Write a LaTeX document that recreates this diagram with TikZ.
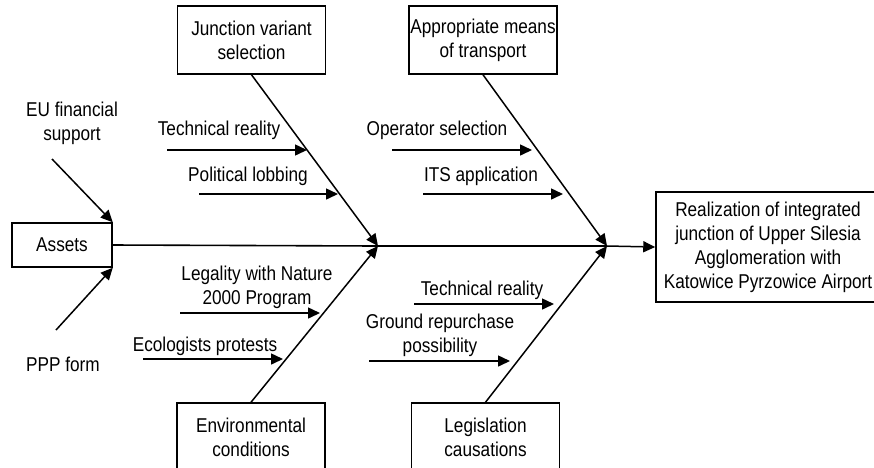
\documentclass[tikz,border=0pt]{standalone}
\usepackage{fontspec}
\setmainfont{Liberation Sans}[FakeStretch=0.86]
\usetikzlibrary{arrows.meta}
\tikzstyle{box}=[draw,line width=1.5pt,align=center,inner sep=0pt]
\tikzstyle{cause}=[align=center,inner sep=0pt]
\tikzstyle{spine} = [draw,line width=1.6pt]
\tikzstyle{arrow} = [draw,line width=1.5pt,-{Triangle[length=12pt,width=11pt]}]

\begin{document}
\begin{tikzpicture}[x=1pt,y=-1pt,font=\fontsize{20}{24}\selectfont]
\useasboundingbox (0,0) rectangle (874,467);

    % boxes
    \node[box,minimum width=100pt,minimum height=44pt] (assets) at (62,245) {Assets};
    \foreach \pos/ \name/ \txt in {{(251.5,40)/junction/{Junction variant\\selection}}, {(483,40)/means/{Appropriate means\\of transport}}, {(251,437)/env/{Environmental\\conditions}}, {(485.5,437)/legis/{Legislation\\causations}}}
        \node[box,minimum width=148pt,minimum height=68pt] (\name) at \pos {\txt};
    \node[box,minimum width=224pt,minimum height=110pt] (result) at (768,247) {Realization of integrated\\junction of Upper Silesia\\Agglomeration with\\Katowice Pyrzowice Airport};

    % joints on the spine
    \coordinate (j1) at (378,246);
    \coordinate (j2) at (607,246);

    \path[spine] (assets.east) -- (j1) -- (j2);
    \path[arrow] (j2) -- (result.west);
    \foreach \source/ \dest in {junction.south/j1, env.north/j1, means.south/j2, legis.north/j2}
        \path[arrow] (\source) -- (\dest);

    % causes of the assets
    \node[cause] (eu) at (72,123) {EU financial\\support};
    \node[cause] (ppp) at (63,364) {PPP form};
    \coordinate (eus) at (52,159);
    \coordinate (ppps) at (56,330);
    \path[arrow] (eus) -- (assets.north east);
    \path[arrow] (ppps) -- (assets.south east);

    % minor causes
    \foreach \pos/ \name/ \txt in {{(219,130)/tr1/{Technical reality}}, {(248,176)/pol/{Political lobbing}}, {(437,130)/op/{Operator selection}}, {(481,176)/its/{ITS application}}, {(257,287)/leg/{Legality with Nature\\2000 Program}}, {(205,346)/eco/{Ecologists protests}}, {(482,290)/tr2/{Technical reality}}, {(440,335)/gr/{Ground repurchase\\possibility}}}
        \node[cause] (\name) at \pos {\txt};

    \foreach \name/ \x/ \y in {tr1/167/150, pol/199/194, op/392/150, its/423/194, leg/180/313, eco/143/359, tr2/414/304, gr/369/361}
        \coordinate (\name s) at (\x,\y);
    \foreach \name/ \x/ \y in {tr1/307/150, pol/338/194, op/532/150, its/563/194, leg/320/313, eco/283/359, tr2/554/304, gr/510/361}
        \coordinate (\name e) at (\x,\y);

    \foreach \name in {tr1, pol, op, its, leg, eco, tr2, gr}
        \path[arrow] (\name s) -- (\name e);

\end{tikzpicture}
\end{document}
